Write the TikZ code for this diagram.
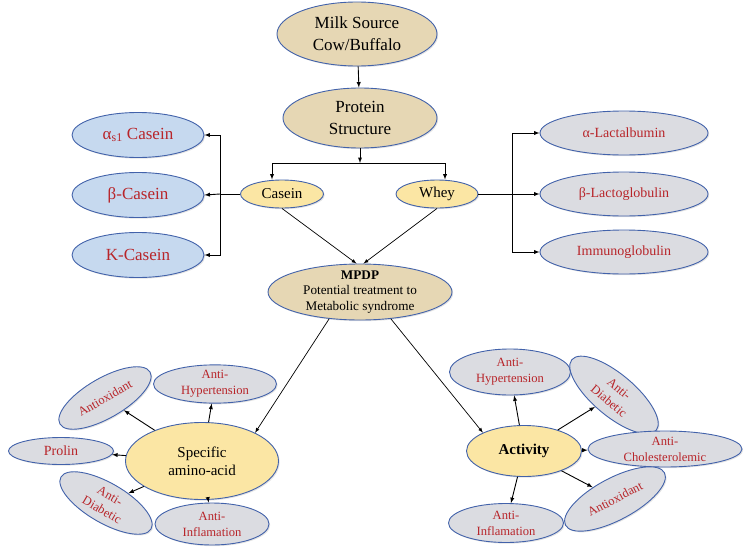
\documentclass[tikz,border=0pt]{standalone}
\usepackage{fontspec}
\setmainfont{Liberation Serif}
\usetikzlibrary{shapes.geometric,arrows,shadows}
\definecolor{edgeblue}{HTML}{4262AA}
\definecolor{tanfill}{HTML}{E6D7B4}
\definecolor{yelfill}{HTML}{FBE6A4}
\definecolor{bluefill}{HTML}{C6D9EF}
\definecolor{greyfill}{HTML}{DBDCE1}
\definecolor{redtext}{HTML}{B8252A}
\tikzset
{
    basenode/.style = {ellipse, draw=edgeblue, line width=0.9pt, inner sep=0pt, align=center, drop shadow={opacity=0.22, shadow xshift=1.2pt, shadow yshift=-1.2pt}},
    mainnode/.style = {basenode, fill=tanfill, font=\fontsize{17}{22}\selectfont},
    partnode/.style = {basenode, fill=yelfill, font=\fontsize{15}{18}\selectfont},
    casnode/.style  = {basenode, fill=bluefill, text=redtext, minimum width=132, minimum height=45, font=\fontsize{17}{20}\selectfont},
    whynode/.style  = {basenode, fill=greyfill, text=redtext, minimum width=168, minimum height=44, font=\fontsize{14}{17}\selectfont},
    effnode/.style  = {basenode, fill=greyfill, text=redtext, font=\fontsize{12.6}{16}\selectfont}
}

\begin{document}
\begin{tikzpicture}[->,>=latex,line width=0.9pt,x=1pt,y=-1pt]
\useasboundingbox (0,0) rectangle (749,554);
% top of the tree
\node [mainnode, minimum width=160, minimum height=64] at (357,34) (milk) {Milk Source\\Cow/Buffalo};
\node [mainnode, minimum width=154, minimum height=60] at (360,118) (prot) {Protein\\Structure};
\node [partnode, minimum width=83, minimum height=28] at (282,194) (cas) {Casein};
\node [partnode, minimum width=82, minimum height=28] at (437,194) (whey) {Whey};
\node [mainnode, minimum width=184, minimum height=56, inner sep=-6pt, font=\fontsize{13.2}{15.5}\selectfont] at (360,292) (mpdp) {\textbf{MPDP}\\Potential treatment to\\Metabolic syndrome};
\coordinate (split) at (360,163);
\coordinate (cbr) at (272,163);
\coordinate (wbr) at (445,163);
\coordinate (cl) at (220,194);
\coordinate (wr) at (512,194);
% casein fractions
\node [casnode] at (138,135) (as1) {α\textsubscript{s1} Casein};
\node [casnode] at (138,195) (bcas) {β-Casein};
\node [casnode] at (138,255) (kcas) {K-Casein};
% whey fractions
\node [whynode] at (624,133) (alac) {α-Lactalbumin};
\node [whynode] at (624,194) (blac) {β-Lactoglobulin};
\node [whynode] at (624,252) (immu) {Immunoglobulin};
% specific amino-acid
\node [partnode, minimum width=153, minimum height=77] at (202,461) (spec) {Specific\\amino-acid};
\node [effnode, minimum width=104, minimum height=40, rotate=30] at (105,398) (lox) {Antioxidant};
\node [effnode, minimum width=123, minimum height=38] at (215,384) (lhyp) {Anti-\\Hypertension};
\node [effnode, minimum width=105, minimum height=27, font=\fontsize{14}{16}\selectfont] at (61,451) (prol) {Prolin};
\node [effnode, minimum width=104, minimum height=40, rotate=-30] at (106,503) (ldia) {Anti-\\Diabetic};
\node [effnode, minimum width=114, minimum height=42] at (212,524) (linf) {Anti-\\Inflamation};
% activity
\node [partnode, minimum width=115, minimum height=51, font=\fontsize{15}{18}\bfseries] at (524,451) (act) {Activity};
\node [effnode, minimum width=121, minimum height=46] at (510,372) (rhyp) {Anti-\\Hypertension};
\node [effnode, minimum width=110, minimum height=42, rotate=-40] at (614,395) (rdia) {Anti-\\Diabetic};
\node [effnode, minimum width=154, minimum height=36] at (665,449) (rcho) {Anti-\\Cholesterolemic};
\node [effnode, minimum width=112, minimum height=42, rotate=28] at (615,499) (rox) {Antioxidant};
\node [effnode, minimum width=115, minimum height=39] at (506,523) (rinf) {Anti-\\Inflamation};
\draw (milk) edge (prot);
\draw (prot) edge (split);
\draw [-] (cbr) -- (wbr);
\draw (cbr) -- (cbr |- cas.north);
\draw (wbr) -- (wbr |- whey.north);
\draw [-] (cas.west) -- (cl);
\draw (cl) |- (as1.east);
\draw (cl) -- (bcas.east);
\draw (cl) |- (kcas.east);
\draw (whey.east) -- (blac.west);
\draw (wr) |- (alac.west);
\draw (wr) |- (immu.west);
\draw [line width=0.7pt] (cas.south) -- (mpdp.97);
\draw [line width=0.7pt] (whey.south) -- (mpdp.83);
\draw [line width=0.7pt] (mpdp.221) -- (spec.28);
\draw [line width=0.7pt] (mpdp.319) -- (act.156);
\draw (spec) edge (lox);
\draw (spec) edge (lhyp);
\draw (spec) edge (prol);
\draw (spec) edge (ldia);
\draw (spec) edge (linf);
\draw (act) edge (rhyp);
\draw (act) edge (rdia);
\draw (act) edge (rcho);
\draw (act) edge (rox);
\draw (act) edge (rinf);
\end{tikzpicture}
\end{document}
